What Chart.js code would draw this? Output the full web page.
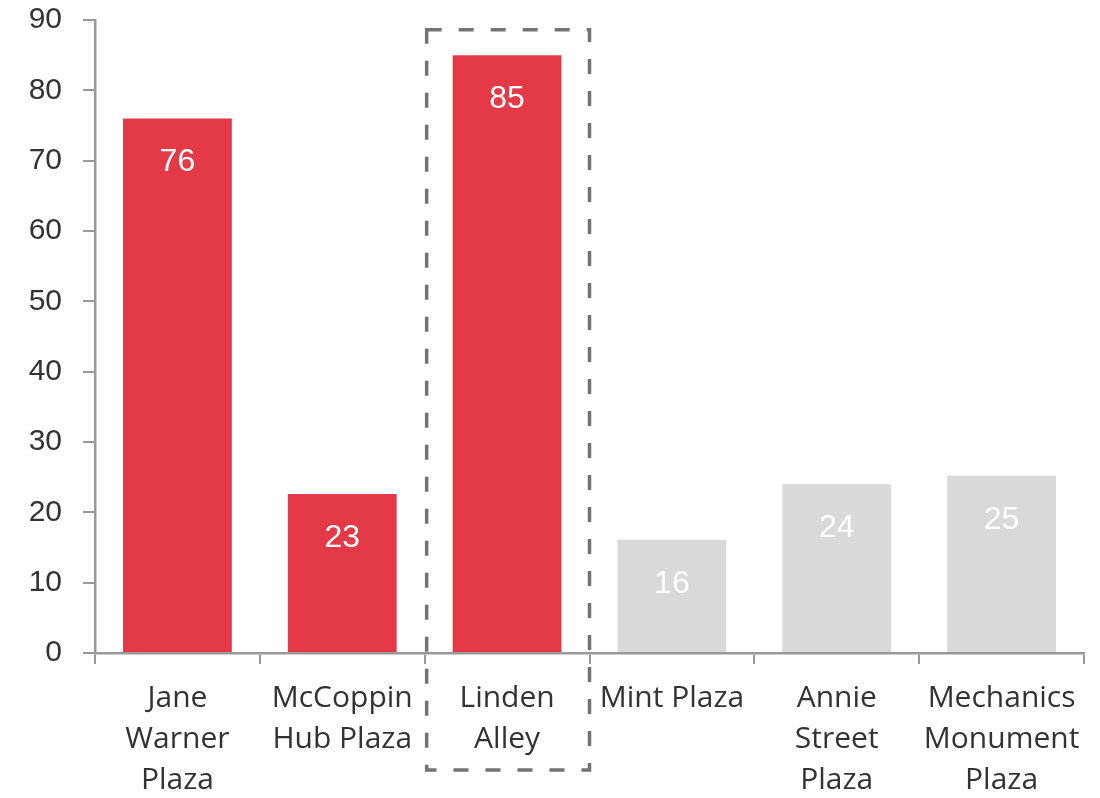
<!DOCTYPE html>
<html>
<head>
<meta charset="utf-8">
<script src="https://cdn.jsdelivr.net/npm/chart.js@4"></script>
<style>
  html, body { margin: 0; padding: 0; background: #fff; }
  #wrap { width: 1100px; height: 798px; }
</style>
</head>
<body>
<div id="wrap"><canvas id="plaza-chart" width="1100" height="798"></canvas></div>
<script>
var plazaNames = [
    ["Jane", "Warner", "Plaza"],
    ["McCoppin", "Hub Plaza"],
    ["Linden", "Alley"],
    "Mint Plaza",
    ["Annie", "Street", "Plaza"],
    ["Mechanics", "Monument", "Plaza"]
];
var plazaValues = [76, 22.6, 85, 16.1, 24, 25.2];
var barColors = ["#e43a48", "#e43a48", "#e43a48", "#d9d9d9", "#d9d9d9", "#d9d9d9"];
var highlightIndex = 2;

// white value labels inside the bars
var valueLabels = {
    id: 'valueLabels',
    afterDatasetsDraw: function (chart) {
        var ctx = chart.ctx;
        var meta = chart.getDatasetMeta(0);
        ctx.save();
        ctx.fillStyle = '#ffffff';
        ctx.font = '32px "Liberation Sans", Arial, sans-serif';
        ctx.textAlign = 'center';
        ctx.textBaseline = 'middle';
        meta.data.forEach(function (bar, i) {
            ctx.fillText(Math.round(plazaValues[i]), bar.x, bar.y + 44);
        });
        ctx.restore();
    }
};

// dashed box around the highlighted category
var highlightBox = {
    id: 'highlightBox',
    afterDraw: function (chart) {
        var ctx = chart.ctx;
        var x = chart.scales.x, y = chart.scales.y;
        var half = (x.getPixelForValue(1) - x.getPixelForValue(0)) / 2;
        var left = x.getPixelForValue(highlightIndex) - half + 2;
        var right = x.getPixelForValue(highlightIndex) + half;
        var top = y.getPixelForValue(88.6);
        var bottom = chart.chartArea.bottom + 117;
        ctx.save();
        ctx.strokeStyle = '#737373';
        ctx.lineWidth = 3.5;
        ctx.setLineDash([15, 17]);
        ctx.strokeRect(left, top, right - left, bottom - top);
        ctx.restore();
    }
};

var ctx = document.getElementById("plaza-chart");

var myChart = new Chart(ctx, {
    type: 'bar',
    data: {
        labels: plazaNames,
        datasets: [{
            data: plazaValues,
            backgroundColor: barColors,
            barPercentage: 0.66,
            categoryPercentage: 1.0
        }]
    },
    options: {
        responsive: false,
        animation: false,
        layout: { padding: { top: 20, right: 16, left: 0, bottom: 0 } },
        plugins: {
            legend: { display: false },
            tooltip: { enabled: false }
        },
        scales: {
            x: {
                afterFit: function (scale) {
                    scale.height = 145;
                    scale.paddingLeft = 0;
                    scale.paddingRight = 0;
                },
                grid: { drawOnChartArea: false, drawTicks: true, tickLength: 11, color: '#999', lineWidth: 2 },
                border: { display: true, color: '#999', width: 2.5 },
                ticks: {
                    color: '#333',
                    maxRotation: 0,
                    autoSkip: false,
                    padding: 14,
                    font: { family: '"Open Sans", sans-serif', size: 30, lineHeight: 1.37 }
                }
            },
            y: {
                min: 0,
                max: 90,
                afterFit: function (scale) {
                    scale.width = 95;
                    scale.paddingTop = 0;
                    scale.paddingBottom = 0;
                },
                grid: { drawOnChartArea: false, drawTicks: true, tickLength: 12, color: '#999', lineWidth: 2 },
                border: { display: true, color: '#999', width: 2.5 },
                ticks: {
                    stepSize: 10,
                    color: '#333',
                    padding: 21,
                    font: { family: '"Liberation Sans", Arial, sans-serif', size: 30 }
                }
            }
        }
    },
    plugins: [valueLabels, highlightBox]
});
</script>
</body>
</html>
